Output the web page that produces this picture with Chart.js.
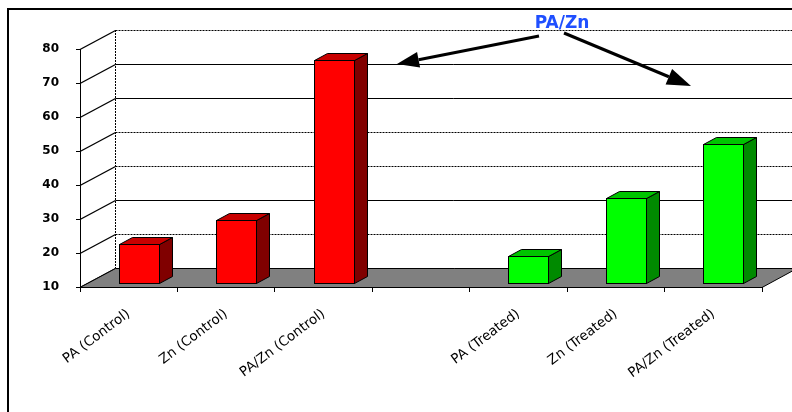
<!DOCTYPE html>
<html><head><meta charset="utf-8">
<script src="https://cdn.jsdelivr.net/npm/chart.js@4"></script>
<style>html,body{margin:0;padding:0;background:#fff;} canvas{display:block;}</style>
</head><body>
<canvas id="c" width="792" height="412"></canvas>
<script>
// ---- data ----
const categories = ['PA (Control)','Zn (Control)','PA/Zn (Control)','','PA (Treated)','Zn (Treated)','PA/Zn (Treated)'];
const controlValues = [21.5, 28.5, 75.5, null, null, null, null];
const treatedValues = [null, null, null, null, 18, 35, 51];
const yTicks = [10,20,30,40,50,60,70,80];
const annotationText = 'PA/Zn';

// ---- styling / 3D geometry ----
const WALL_DX = 35, WALL_DY = -19;
const BAR_DX = 10, BAR_DY = -4;
const BAR_DEPTH_X = 13, BAR_DEPTH_Y = -7;
const palette = {
  control: {front:'#ff0000', side:'#800000', top:'#c80000'},
  treated: {front:'#00ff00', side:'#008a00', top:'#00c400'}
};

function arrow(ctx, x1, y1, x2, y2, headLen, headW){
  const ang = Math.atan2(y2-y1, x2-x1);
  const bx = x2 - Math.cos(ang)*headLen, by = y2 - Math.sin(ang)*headLen;
  ctx.beginPath(); ctx.moveTo(x1,y1); ctx.lineTo(bx,by); ctx.stroke();
  const nx = -Math.sin(ang)*headW/2, ny = Math.cos(ang)*headW/2;
  ctx.beginPath(); ctx.moveTo(x2,y2); ctx.lineTo(bx+nx,by+ny); ctx.lineTo(bx-nx,by-ny); ctx.closePath(); ctx.fill();
}

const scene3d = {
  id:'scene3d',
  beforeDraw(chart){
    const {ctx, chartArea:a, scales:{y}} = chart;
    ctx.save();
    ctx.fillStyle='#fff'; ctx.fillRect(0,0,chart.width,chart.height);
    ctx.fillStyle='#000';
    ctx.fillRect(7,8,chart.width-7,2);
    ctx.fillRect(7,8,2,chart.height-8);
    const bx = a.left + WALL_DX + 0.5;
    ctx.strokeStyle = '#000';
    yTicks.forEach(v=>{
      const py = Math.round(y.getPixelForValue(v)) + 0.5;
      ctx.lineWidth = 1;
      ctx.setLineDash((v === 30 || v === 60 || v === 70) ? [] : [2,1]);
      ctx.beginPath(); ctx.moveTo(bx, py+WALL_DY); ctx.lineTo(chart.width, py+WALL_DY); ctx.stroke();
      ctx.setLineDash([]);
      ctx.lineWidth = 1.4;
      ctx.beginPath(); ctx.moveTo(a.left, py); ctx.lineTo(bx, py+WALL_DY); ctx.stroke();
    });
    ctx.lineWidth = 1;
    ctx.setLineDash([2,1]);
    ctx.beginPath(); ctx.moveTo(bx, a.top+WALL_DY); ctx.lineTo(bx, a.bottom+WALL_DY); ctx.stroke();
    ctx.setLineDash([]);
    ctx.fillStyle = '#808080';
    ctx.beginPath();
    ctx.moveTo(a.left, a.bottom+0.5); ctx.lineTo(a.right, a.bottom+0.5);
    ctx.lineTo(a.right+WALL_DX, a.bottom+0.5+WALL_DY); ctx.lineTo(bx, a.bottom+0.5+WALL_DY);
    ctx.closePath(); ctx.fill(); ctx.stroke();
    ctx.restore();
  },
  afterDatasetsDraw(chart){
    const ctx = chart.ctx;
    const yScale = chart.scales.y;
    const basePx = yScale.getPixelForValue(yTicks[0]);
    ctx.save();
    ctx.lineWidth = 1; ctx.strokeStyle = '#000'; ctx.lineJoin='miter';
    chart.data.datasets.forEach((ds, di)=>{
      const meta = chart.getDatasetMeta(di);
      const col = palette[ds.key];
      meta.data.forEach((bar, i)=>{
        if (ds.data[i] == null) return;
        const p = bar.getProps(['x','y','width'], true);
        const l = Math.round(p.x - p.width/2 + BAR_DX) + 0.5;
        const r = Math.round(p.x + p.width/2 + BAR_DX) + 0.5;
        const t = Math.round(p.y + BAR_DY) + 0.5;
        const b = Math.round(basePx + BAR_DY) + 0.5;
        ctx.fillStyle = col.side;
        ctx.beginPath(); ctx.moveTo(r,t); ctx.lineTo(r+BAR_DEPTH_X, t+BAR_DEPTH_Y);
        ctx.lineTo(r+BAR_DEPTH_X, b+BAR_DEPTH_Y); ctx.lineTo(r,b); ctx.closePath(); ctx.fill(); ctx.stroke();
        ctx.fillStyle = col.top;
        ctx.beginPath(); ctx.moveTo(l,t); ctx.lineTo(l+BAR_DEPTH_X, t+BAR_DEPTH_Y);
        ctx.lineTo(r+BAR_DEPTH_X, t+BAR_DEPTH_Y); ctx.lineTo(r,t); ctx.closePath(); ctx.fill(); ctx.stroke();
        ctx.fillStyle = col.front;
        ctx.fillRect(l, t, r-l, b-t); ctx.strokeRect(l, t, r-l, b-t);
      });
    });
    ctx.restore();
  },
  afterDraw(chart){
    const ctx = chart.ctx;
    ctx.save();
    ctx.font = 'bold 17px "DejaVu Sans"';
    ctx.fillStyle = '#1f4fff'; ctx.textAlign='center'; ctx.textBaseline='middle';
    ctx.fillText(annotationText, 562, 24);
    ctx.strokeStyle = '#000'; ctx.fillStyle = '#000'; ctx.lineWidth = 3;
    arrow(ctx, 539, 36, 397, 64, 22, 16);
    arrow(ctx, 564, 33, 691, 86, 24, 17);
    ctx.restore();
  }
};

new Chart(document.getElementById('c'), {
  type:'bar',
  data:{
    labels: categories,
    datasets:[
      {key:'control', data: controlValues, backgroundColor:'rgba(0,0,0,0)', borderWidth:0},
      {key:'treated', data: treatedValues, backgroundColor:'rgba(0,0,0,0)', borderWidth:0}
    ]
  },
  options:{
    responsive:false, animation:false, devicePixelRatio:1,
    layout:{padding:{top:49, right:30, left:0, bottom:0}},
    plugins:{legend:{display:false}, tooltip:{enabled:false}},
    datasets:{bar:{grouped:false, categoryPercentage:1, barPercentage:0.41}},
    scales:{
      x:{
        grid:{display:true, drawOnChartArea:false, drawTicks:true, tickLength:5, color:'#000', offset:true},
        border:{display:true, color:'#000', width:1},
        ticks:{autoSkip:false, maxRotation:37, minRotation:37, padding:14, color:'#000',
               font:{family:'DejaVu Sans', size:13.5}},
        afterFit(s){ s.height = 125; }
      },
      y:{
        min:10, max:80,
        afterBuildTicks(s){ s.ticks = yTicks.map(v=>({value:v})); },
        ticks:{padding:17, color:'#000', font:{family:'DejaVu Sans', size:12, weight:'bold'}},
        grid:{drawOnChartArea:false, tickLength:4, color:'#000'},
        border:{display:true, color:'#000', width:1},
        afterFit(s){ s.width = 80; }
      }
    }
  },
  plugins:[scene3d]
});
</script>
</body></html>
